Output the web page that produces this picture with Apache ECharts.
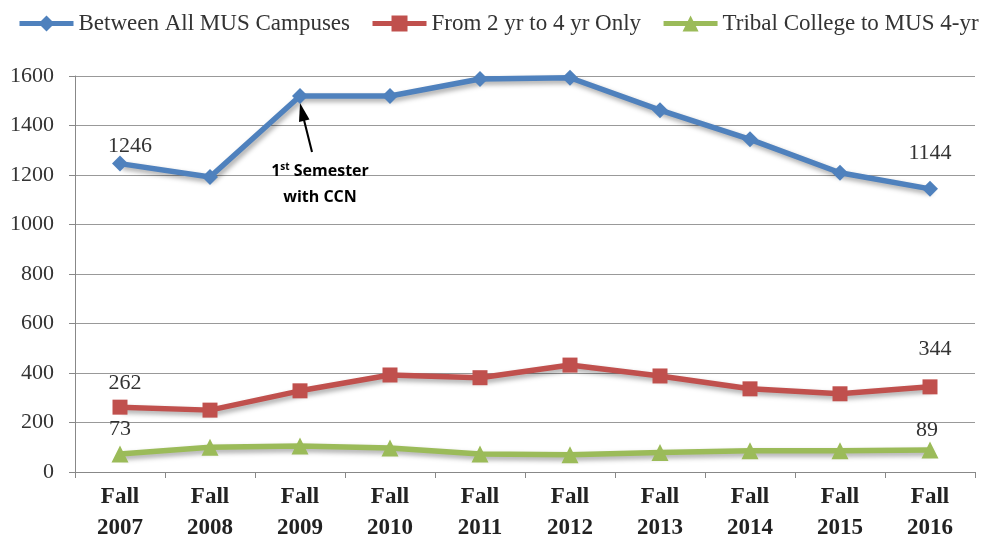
<!DOCTYPE html>
<html><head><meta charset="utf-8">
<script src="https://cdn.jsdelivr.net/npm/echarts@6/dist/echarts.min.js"></script>
<style>html,body{margin:0;padding:0;background:#fff}#c{width:984px;height:544px}</style>
</head><body><div id="c"></div>
<script>
var categories = ['Fall\n2007','Fall\n2008','Fall\n2009','Fall\n2010','Fall\n2011','Fall\n2012','Fall\n2013','Fall\n2014','Fall\n2015','Fall\n2016'];
var allMus = [1246, 1192, 1519, 1519, 1588, 1593, 1462, 1344, 1209, 1144];
var twoToFour = [262, 250, 328, 392, 381, 432, 388, 336, 316, 344];
var tribal = [73, 100, 105, 97, 73, 70, 79, 86, 86, 89];
var seriesNames = ['Between All MUS Campuses', 'From 2 yr to 4 yr Only', 'Tribal College to MUS 4-yr'];
var yTicks = [0, 200, 400, 600, 800, 1000, 1200, 1400, 1600];
var annotationIndex = 2;

var serif = '"Liberation Serif", serif';
function withEndLabels(vals, firstOff, lastOff) {
  return vals.map(function (v, i) {
    if (i === 0) return {value: v, label: {show: true, offset: firstOff}};
    if (i === vals.length - 1) return {value: v, label: {show: true, offset: lastOff}};
    return v;
  });
}
var labelStyle = {show: false, position: 'top', fontFamily: serif, fontSize: 22, color: '#333'};
var shadow = {shadowColor: 'rgba(0,0,0,0.35)', shadowBlur: 5, shadowOffsetX: 2, shadowOffsetY: 3};

var chart = echarts.init(document.getElementById('c'));
chart.setOption({
  animation: false,
  legend: {
    left: 12, top: 7, itemWidth: 54, itemHeight: 20, itemGap: 20,
    lineStyle: {width: 5},
    textStyle: {fontFamily: serif, fontSize: 23, color: '#333'},
    data: seriesNames
  },
  grid: {left: 75, right: 9, top: 76, bottom: 72},
  xAxis: {
    type: 'category', data: categories, boundaryGap: true,
    axisLine: {lineStyle: {color: '#888'}},
    axisTick: {show: true, length: 6, lineStyle: {color: '#888'}},
    axisLabel: {fontFamily: serif, fontWeight: 'bold', fontSize: 23, color: '#222', lineHeight: 31, margin: 10}
  },
  yAxis: {
    type: 'value', min: yTicks[0], max: yTicks[yTicks.length - 1], interval: 200,
    axisLine: {show: true, lineStyle: {color: '#888'}},
    axisTick: {show: true, length: 6, lineStyle: {color: '#888'}},
    splitLine: {lineStyle: {color: '#999', width: 1}},
    axisLabel: {fontFamily: serif, fontSize: 22, color: '#333', margin: 21,
      formatter: function (v) { return String(v); }}
  },
  series: [
    {name: seriesNames[0], type: 'line', data: withEndLabels(allMus, [10, 7], [0, -12]),
     symbol: 'diamond', symbolSize: 16, color: '#4F81BD',
     lineStyle: Object.assign({width: 5.5, color: '#4F81BD'}, shadow), itemStyle: {color: '#4F81BD'},
     label: labelStyle},
    {name: seriesNames[1], type: 'line', data: withEndLabels(twoToFour, [5, 0], [5, -14]),
     symbol: 'rect', symbolSize: 15, color: '#C0504D',
     lineStyle: Object.assign({width: 5.5, color: '#C0504D'}, shadow), itemStyle: {color: '#C0504D'},
     label: labelStyle},
    {name: seriesNames[2], type: 'line', data: withEndLabels(tribal, [0, 0], [-3, 5]),
     symbol: 'triangle', symbolSize: 17, color: '#9BBB59',
     lineStyle: Object.assign({width: 5.5, color: '#9BBB59'}, shadow), itemStyle: {color: '#9BBB59'},
     label: labelStyle}
  ]
});

var p = chart.convertToPixel({gridIndex: 0}, [annotationIndex, allMus[annotationIndex]]);
chart.setOption({
  graphic: [
    {type: 'line', shape: {x1: p[0] + 12, y1: p[1] + 56, x2: p[0] + 4, y2: p[1] + 24},
     style: {stroke: '#000', lineWidth: 2}},
    {type: 'polygon', shape: {points: [[p[0], p[1] + 7], [p[0] + 9.5, p[1] + 23.5], [p[0] - 1, p[1] + 26]]},
     style: {fill: '#000'}},
    {type: 'text', x: p[0] + 20, y: p[1] + 75,
     style: {text: '{n|1}{s|st}{n| Semester}', textAlign: 'center', textVerticalAlign: 'middle',
       rich: {n: {fontFamily: 'Open Sans', fontWeight: 'bold', fontSize: 16, fill: '#000'},
              s: {fontFamily: 'Open Sans', fontWeight: 'bold', fontSize: 10, fill: '#000', verticalAlign: 'top', padding: [0, 0, 8, 0]}}}},
    {type: 'text', x: p[0] + 20, y: p[1] + 101,
     style: {text: 'with CCN', textAlign: 'center', textVerticalAlign: 'middle',
       fontFamily: 'Open Sans', fontWeight: 'bold', fontSize: 16, fill: '#000'}}
  ]
});
</script></body></html>
